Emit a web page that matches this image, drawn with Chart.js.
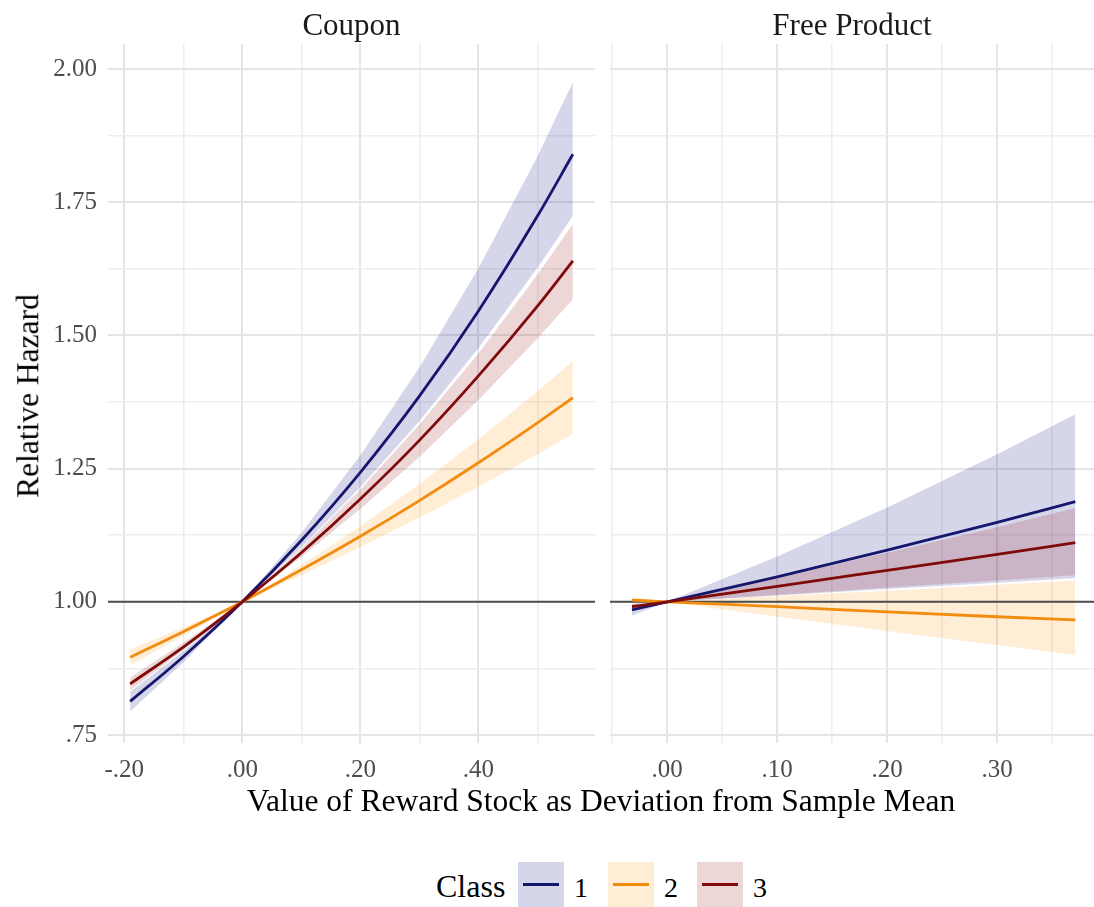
<!DOCTYPE html>
<html>
<head>
<meta charset="utf-8">
<script src="https://cdn.jsdelivr.net/npm/chart.js@4.4.1/dist/chart.umd.min.js"></script>
<style>
  body { margin: 0; background: #fff; font-family: "Liberation Serif", "DejaVu Serif", serif; }
  #wrap { position: relative; width: 1094px; height: 907px; overflow: hidden; }
  canvas { position: absolute; }
  .txt { position: absolute; color: #000; white-space: nowrap; line-height: 1; }
  .strip { top: 9px; font-size: 31px; text-align: center; color: #1a1a1a; }
  .key { position: absolute; top: 862px; width: 46px; height: 46px; }
  .key span { position: absolute; left: 5px; right: 5px; top: 21px; height: 3px; }
</style>
</head>
<body>
<div id="wrap">
  <canvas id="coupon"></canvas>
  <canvas id="free"></canvas>
  <div class="txt strip" style="left:108px;width:487px;">Coupon</div>
  <div class="txt strip" style="left:610px;width:484px;">Free Product</div>
  <div class="txt" style="font-size:31.5px;left:28px;top:396px;transform:translate(-50%,-50%) rotate(-90deg);">Relative Hazard</div>
  <div class="txt" style="font-size:31.5px;left:601px;top:785px;transform:translateX(-50%);">Value of Reward Stock as Deviation from Sample Mean</div>
  <div id="legend"></div>
</div>
<script>
// ---- data ----
const classes = ['1', '2', '3'];
const lineColors = ['#16166e', '#f28c0f', '#7e0a0a'];
const ribbonColors = ['rgba(0,0,128,0.16)', 'rgba(255,140,0,0.16)', 'rgba(139,0,0,0.16)'];

// Coupon panel
const couponX = [-0.19, -0.1, 0, 0.1, 0.2, 0.3, 0.4, 0.5, 0.56];
const couponFit = [
  [0.813, 0.897, 1, 1.115, 1.243, 1.386, 1.546, 1.724, 1.840],
  [0.896, 0.944, 1, 1.060, 1.123, 1.190, 1.261, 1.336, 1.383],
  [0.846, 0.915, 1, 1.092, 1.193, 1.303, 1.424, 1.555, 1.640]
];
const couponLo = [
  [0.794, 0.886, 1, 1.102, 1.215, 1.339, 1.476, 1.627, 1.724],
  [0.881, 0.936, 1, 1.050, 1.103, 1.158, 1.216, 1.277, 1.315],
  [0.834, 0.909, 1, 1.084, 1.174, 1.272, 1.379, 1.494, 1.568]
];
const couponHi = [
  [0.831, 0.907, 1, 1.129, 1.275, 1.440, 1.626, 1.836, 1.975],
  [0.911, 0.952, 1, 1.069, 1.142, 1.221, 1.305, 1.395, 1.452],
  [0.858, 0.923, 1, 1.100, 1.211, 1.333, 1.466, 1.614, 1.709]
];

// Free Product panel
const freeX = [-0.032, 0, 0.1, 0.2, 0.3, 0.371];
const freeFit = [
  [0.985, 1, 1.047, 1.097, 1.149, 1.188],
  [1.003, 1, 0.991, 0.981, 0.972, 0.966],
  [0.991, 1, 1.029, 1.059, 1.089, 1.111]
];
const freeLo = [
  [0.974, 1, 1.012, 1.024, 1.036, 1.044],
  [0.997, 1, 0.972, 0.945, 0.919, 0.900],
  [0.986, 1, 1.013, 1.027, 1.040, 1.050]
];
const freeHi = [
  [0.996, 1, 1.085, 1.177, 1.277, 1.352],
  [1.009, 1, 1.011, 1.021, 1.032, 1.040],
  [0.996, 1, 1.045, 1.092, 1.140, 1.176]
];

// axes
const yTicks = [0.75, 0.875, 1, 1.125, 1.25, 1.375, 1.5, 1.625, 1.75, 1.875, 2];
const yLabelled = [0.75, 1, 1.25, 1.5, 1.75, 2];
const couponXTicks = [-0.2, -0.1, 0, 0.1, 0.2, 0.3, 0.4, 0.5];
const couponXLabelled = [-0.2, 0, 0.2, 0.4];
const freeXTicks = [-0.05, 0, 0.05, 0.1, 0.15, 0.2, 0.25, 0.3, 0.35];
const freeXLabelled = [0, 0.1, 0.2, 0.3];

const Y_MIN = 0.735, Y_MAX = 2.047;

function fmt(v) {
  const s = Math.abs(v).toFixed(2).replace(/^0/, '');
  return (v < -1e-9 ? '-' : '') + s;
}
function inList(v, list) {
  return list.some(t => Math.abs(t - v) < 1e-6);
}

// horizontal reference line at 1
const refLine = {
  id: 'refLine',
  beforeDatasetsDraw(chart) {
    const { ctx, chartArea, scales } = chart;
    const y = scales.y.getPixelForValue(1);
    ctx.save();
    ctx.strokeStyle = '#4d4d4d';
    ctx.lineWidth = 2;
    ctx.beginPath();
    ctx.moveTo(chartArea.left, y);
    ctx.lineTo(chartArea.right, y);
    ctx.stroke();
    ctx.restore();
  }
};

function buildDatasets(xs, fit, lo, hi) {
  const pts = arr => arr.map((v, i) => ({ x: xs[i], y: v }));
  const ds = [];
  classes.forEach((c, k) => {
    ds.push({ data: pts(lo[k]), borderWidth: 0, pointRadius: 0, fill: false, order: 30 - k * 10 });
    ds.push({ data: pts(hi[k]), borderWidth: 0, pointRadius: 0, fill: '-1',
      backgroundColor: ribbonColors[k], order: 30 - k * 10 });
  });
  classes.forEach((c, k) => {
    ds.push({ label: 'Class ' + c, data: pts(fit[k]), borderColor: lineColors[k], borderWidth: 2.8,
      pointRadius: 0, fill: false, cubicInterpolationMode: 'monotone', order: 3 - k });
  });
  return ds;
}

function makeChart(id, opts) {
  const el = document.getElementById(id);
  el.style.left = opts.left + 'px';
  el.style.top = '0px';
  el.style.width = opts.width + 'px';
  el.style.height = '800px';
  el.width = opts.width;
  el.height = 800;
  return new Chart(el.getContext('2d'), {
    type: 'line',
    data: { datasets: buildDatasets(opts.xs, opts.fit, opts.lo, opts.hi) },
    options: {
      responsive: false,
      animation: false,
      layout: { padding: { top: 44, right: opts.padRight, left: 0, bottom: 0 } },
      plugins: {
        legend: { display: false },
        tooltip: { enabled: false },
        filler: { drawTime: 'beforeDatasetsDraw' }
      },
      scales: {
        x: {
          type: 'linear',
          min: opts.xMin,
          max: opts.xMax,
          afterBuildTicks: s => { s.ticks = opts.xTicks.map(v => ({ value: v })); },
          afterFit: s => { s.height = 57; },
          border: { display: false },
          grid: {
            drawTicks: false,
            color: ctx => inList(ctx.tick.value, opts.xLabelled) ? '#e5e5e5' : '#eeeeee',
            lineWidth: ctx => inList(ctx.tick.value, opts.xLabelled) ? 2 : 1.5
          },
          ticks: {
            padding: 12,
            color: '#4d4d4d',
            font: { family: 'Liberation Serif', size: 25 },
            maxRotation: 0,
            autoSkip: false,
            callback: v => inList(v, opts.xLabelled) ? fmt(v) : ''
          }
        },
        y: {
          type: 'linear',
          min: Y_MIN,
          max: Y_MAX,
          afterBuildTicks: s => { s.ticks = yTicks.map(v => ({ value: v })); },
          afterFit: s => { s.width = opts.yWidth; },
          border: { display: false },
          grid: {
            drawTicks: false,
            color: ctx => inList(ctx.tick.value, yLabelled) ? '#e5e5e5' : '#eeeeee',
            lineWidth: ctx => inList(ctx.tick.value, yLabelled) ? 2 : 1.5
          },
          ticks: {
            display: opts.showY,
            padding: 11,
            color: '#4d4d4d',
            font: { family: 'Liberation Serif', size: 25 },
            autoSkip: false,
            callback: v => inList(v, yLabelled) ? fmt(v) : ''
          }
        }
      }
    },
    plugins: [refLine]
  });
}

makeChart('coupon', {
  left: 0, width: 600, padRight: 5, yWidth: 108, showY: true,
  xs: couponX, fit: couponFit, lo: couponLo, hi: couponHi,
  xMin: -0.2275, xMax: 0.5975, xTicks: couponXTicks, xLabelled: couponXLabelled
});
makeChart('free', {
  left: 600, width: 494, padRight: 0, yWidth: 10, showY: false,
  xs: freeX, fit: freeFit, lo: freeLo, hi: freeHi,
  xMin: -0.052, xMax: 0.388, xTicks: freeXTicks, xLabelled: freeXLabelled
});

// legend
const legend = document.getElementById('legend');
const title = document.createElement('div');
title.className = 'txt';
title.style.cssText = 'font-size:32px;left:436px;top:870px;';
title.textContent = 'Class';
legend.appendChild(title);
const keyLeft = [518, 608, 697];
classes.forEach((c, k) => {
  const box = document.createElement('div');
  box.className = 'key';
  box.style.left = keyLeft[k] + 'px';
  box.style.background = ribbonColors[k];
  const ln = document.createElement('span');
  ln.style.background = lineColors[k];
  box.appendChild(ln);
  legend.appendChild(box);
  const lab = document.createElement('div');
  lab.className = 'txt';
  lab.style.cssText = 'font-size:28px;top:874px;left:' + (keyLeft[k] + 56) + 'px;';
  lab.textContent = c;
  legend.appendChild(lab);
});
</script>
</body>
</html>
